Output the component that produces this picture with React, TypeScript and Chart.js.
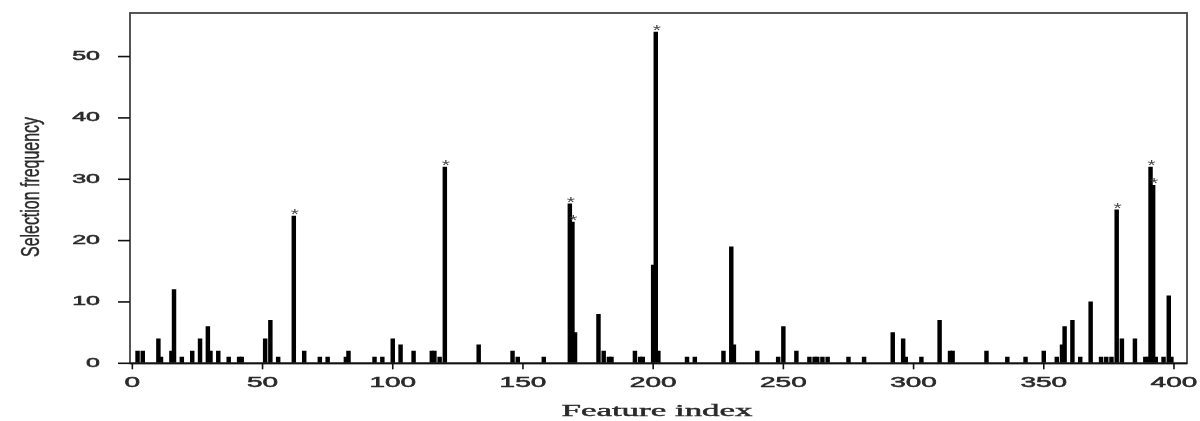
import React, { useEffect, useRef } from "react";
import { Chart, registerables } from "chart.js";

Chart.register(...registerables);

const featureIndex = [
  2, 4, 10, 11, 15, 16, 19, 23, 26, 29, 30, 33, 37, 41, 42, 51, 53, 56, 62, 66, 72, 75,
  82, 83, 93, 96, 100, 103, 108, 115, 116, 118, 120, 133, 146, 148, 158,
  168, 169, 170, 179, 181, 183, 184, 193, 195, 196, 200, 201, 202,
  213, 216, 227, 230, 231, 240, 248, 250, 255, 260, 262, 263, 265, 267,
  275, 281, 292, 296, 297, 303, 310, 314, 315,
  328, 336, 343, 350, 355, 357, 358, 361, 364, 368, 372, 374, 376, 378, 380,
  385, 389, 390, 391, 392, 393, 396, 398, 399,
];
const selectionFrequency = [
  2, 2, 4, 1, 2, 12, 1, 2, 4, 6, 2, 2, 1, 1, 1, 4, 7, 1, 24, 2, 1, 1,
  1, 2, 1, 1, 4, 3, 2, 2, 2, 1, 32, 3, 2, 1, 1,
  26, 23, 5, 8, 2, 1, 1, 2, 1, 1, 16, 54, 2,
  1, 1, 2, 19, 3, 2, 1, 6, 2, 1, 1, 1, 1, 1,
  1, 1, 5, 4, 1, 1, 7, 2, 2,
  2, 1, 1, 2, 1, 3, 6, 7, 1, 10, 1, 1, 1, 25, 4,
  4, 1, 1, 32, 29, 1, 1, 11, 1,
];
const starredFeatures = [62, 120, 168, 169, 201, 378, 391, 392];
const xTicks = [0, 50, 100, 150, 200, 250, 300, 350, 400];
const yTicks = [0, 10, 20, 30, 40, 50];
const xTitle = "Feature index";
const yTitle = "Selection frequency";

function drawStretched(
  ctx: CanvasRenderingContext2D,
  text: string,
  x: number,
  y: number,
  font: string,
  sx: number,
  sy: number,
  align: CanvasTextAlign,
  rotate = 0,
  bolden = 0
) {
  ctx.save();
  ctx.translate(x, y);
  if (rotate) ctx.rotate(rotate);
  ctx.scale(sx, sy);
  ctx.font = font;
  ctx.textAlign = align;
  ctx.textBaseline = "middle";
  ctx.fillText(text, 0, 0);
  if (bolden > 0) {
    ctx.lineWidth = bolden;
    ctx.strokeStyle = ctx.fillStyle as string;
    ctx.strokeText(text, 0, 0);
  }
  ctx.restore();
}

const decorPlugin = {
  id: "decor",
  afterDraw(chart: any) {
    const ctx: CanvasRenderingContext2D = chart.ctx;
    const { left, right, top, bottom } = chart.chartArea;
    const xs = chart.scales.x;
    const ys = chart.scales.y;
    ctx.save();
    // box
    ctx.strokeStyle = "#444";
    ctx.lineWidth = 1.8;
    ctx.strokeRect(left, top, right - left, bottom - top);
    ctx.strokeStyle = "#111";
    ctx.beginPath();
    ctx.moveTo(left, bottom);
    ctx.lineTo(right, bottom);
    ctx.stroke();
    // y ticks
    ctx.fillStyle = "#2a2a2a";
    ctx.lineWidth = 1.6;
    yTicks.forEach((v) => {
      const py = ys.getPixelForValue(v);
      ctx.beginPath();
      ctx.moveTo(left - 12, py);
      ctx.lineTo(left, py);
      ctx.stroke();
      drawStretched(ctx, String(v), 100, py, "12.5px 'Liberation Sans', Arial, sans-serif", 2.0, 1, "right", 0, 0.5);
    });
    // x ticks
    xTicks.forEach((v) => {
      const px = xs.getPixelForValue(v);
      ctx.beginPath();
      ctx.moveTo(px, bottom);
      ctx.lineTo(px, bottom + 6);
      ctx.stroke();
      drawStretched(ctx, String(v), px, 383, "14px 'Liberation Sans', Arial, sans-serif", 2.0, 1, "center", 0, 0.5);
    });
    // x title
    ctx.font = "16px 'Liberation Serif', 'Times New Roman', serif";
    const wX = ctx.measureText(xTitle).width;
    drawStretched(ctx, xTitle, 657, 412, "16px 'Liberation Serif', 'Times New Roman', serif", 191 / wX, 1, "center", 0, 0.4);
    // y title
    ctx.font = "16px 'Liberation Sans', Arial, sans-serif";
    const wY = ctx.measureText(yTitle).width;
    drawStretched(ctx, yTitle, 32, 187, "16px 'Liberation Sans', Arial, sans-serif", 140 / wY, 1.6, "center", -Math.PI / 2, 0.3);
    // stars
    ctx.fillStyle = "#444";
    starredFeatures.forEach((f) => {
      const i = featureIndex.indexOf(f);
      if (i < 0) return;
      const px = xs.getPixelForValue(f);
      const py = ys.getPixelForValue(selectionFrequency[i]);
      drawStretched(ctx, "*", px + 1, py - 1, "14px 'Liberation Sans', Arial, sans-serif", 1.5, 1, "center");
    });
    ctx.restore();
  },
};

export default function App() {
  const ref = useRef<HTMLCanvasElement | null>(null);
  useEffect(() => {
    if (!ref.current) return;
    const data = featureIndex.map((x, i) => ({ x, y: selectionFrequency[i] }));
    const chart = new Chart(ref.current, {
      type: "bar",
      data: {
        datasets: [
          {
            data: data as any,
            backgroundColor: "#000",
            borderWidth: 0,
            barThickness: 3.8,
          },
        ],
      },
      options: {
        responsive: false,
        animation: false,
        layout: { padding: { left: 130, right: 13, top: 13, bottom: 57.7 } },
        plugins: { legend: { display: false }, tooltip: { enabled: false } },
        scales: {
          x: { type: "linear", min: -0.9, max: 405, display: false, offset: false },
          y: { type: "linear", min: 0, max: 57.1, display: false },
        },
      },
      plugins: [decorPlugin],
    });
    return () => chart.destroy();
  }, []);
  return (
    <div style={{ position: "fixed", left: 0, top: 0, width: 1200, height: 421, background: "#fff" }}>
      <canvas ref={ref} width={1200} height={421} />
    </div>
  );
}
